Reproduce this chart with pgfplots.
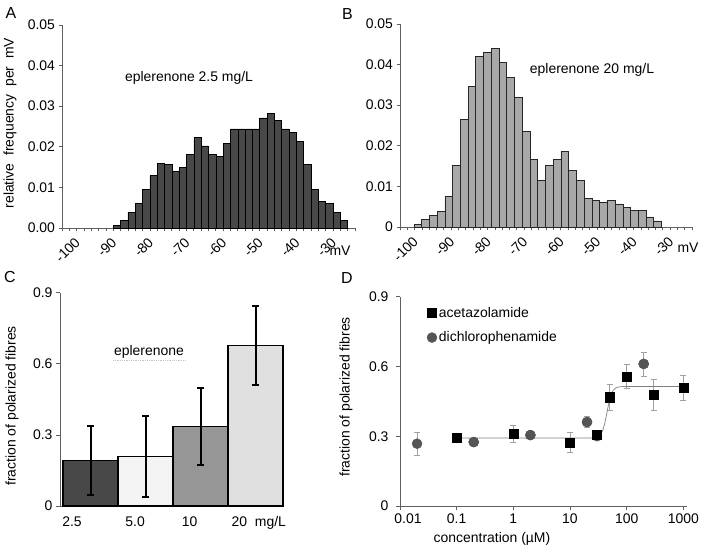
\documentclass[border=0pt]{standalone}
\usepackage{pgfplots}
\pgfplotsset{compat=1.18}
\usepackage{fontspec}
\setmainfont{Liberation Sans}
\definecolor{barA}{RGB}{72,72,72}
\definecolor{barB}{RGB}{168,168,168}
\definecolor{axgray}{RGB}{95,95,95}
\definecolor{cA}{RGB}{72,72,72}
\definecolor{cB}{RGB}{244,244,244}
\definecolor{cC}{RGB}{150,150,150}
\definecolor{cD}{RGB}{224,224,224}
\definecolor{circ}{RGB}{85,85,85}
\definecolor{errg}{RGB}{160,160,160}
\newcommand{\fs}{\fontsize{14}{16}\selectfont}
\begin{document}
\begin{tikzpicture}
\useasboundingbox (0,0) rectangle (702bp,548bp);
\pgfplotsset{
  every axis/.append style={scale only axis, anchor=south west,
    axis x line*=bottom, axis y line*=left, font=\fs,
    axis line style={axgray, line width=0.8pt},
    tick style={axgray, line width=0.8pt},
    tick align=outside, major tick length=4bp, clip=false,
    scaled y ticks=false, scaled x ticks=false},
  histo/.style={xmin=-100, xmax=-20, ymin=0, ymax=0.05,
    xtick={-100,-90,...,-30}, minor xtick={-100,-98,...,-20},
    major tick length=3.5bp, minor tick length=3.5bp,
    xticklabels={-100,-90,-80,-70,-60,-50,-40,-30},
    xticklabel style={rotate=45, anchor=east, inner sep=0pt, xshift=5bp, yshift=-17bp},
    ytick={0,0.01,0.02,0.03,0.04,0.05}},
}
% ---------- A ----------
\begin{axis}[histo, at={(62bp,320bp)}, width=293bp, height=203bp,
  yticklabels={0.00,0.01,0.02,0.03,0.04,0.05}]
\addplot[ybar, bar width=2, bar shift=0, fill=barA, draw=black, line width=0.6pt] coordinates {
(-85,0.0006)(-83,0.0018)(-81,0.0039)(-79,0.0060)(-77,0.0096)(-75,0.0129)(-73,0.0160)(-71,0.0156)
(-69,0.0139)(-67,0.0150)(-65,0.0181)(-63,0.0224)(-61,0.0202)(-59,0.0182)(-57,0.0177)(-55,0.0208)
(-53,0.0244)(-51,0.0244)(-49,0.0244)(-47,0.0244)(-45,0.0271)(-43,0.0282)(-41,0.0266)(-39,0.0244)
(-37,0.0235)(-35,0.0213)(-33,0.0156)(-31,0.0096)(-29,0.0066)(-27,0.0061)(-25,0.0039)(-23,0.0018)};
\end{axis}
% ---------- B ----------
\begin{axis}[histo, at={(400bp,321bp)}, width=292bp, height=203bp,
  yticklabels={0,0.01,0.02,0.03,0.04,0.05}]
\addplot[ybar, bar width=2.12, bar shift=0, fill=barB, draw=black!85, line width=0.6pt] coordinates {
(-95.14,0.0006)(-93.02,0.0018)(-90.90,0.0028)(-88.78,0.0039)(-86.66,0.0076)(-84.54,0.0151)(-82.42,0.0266)(-80.30,0.0346)
(-78.18,0.0420)(-76.06,0.0431)(-73.94,0.0440)(-71.82,0.0405)(-69.70,0.0368)(-67.58,0.0319)(-65.46,0.0236)(-63.34,0.0167)
(-61.22,0.0115)(-59.10,0.0151)(-56.98,0.0167)(-54.86,0.0187)(-52.74,0.0140)(-50.62,0.0114)(-48.50,0.0071)(-46.38,0.0066)
(-44.26,0.0062)(-42.14,0.0066)(-40.02,0.0057)(-37.90,0.0049)(-35.78,0.0040)(-33.66,0.0040)(-31.54,0.0025)(-29.42,0.0015)};
\end{axis}
% ---------- C ----------
\begin{axis}[at={(60bp,42bp)}, width=223bp, height=213.3bp,
  xmin=0.445, xmax=4.5, ymin=0, ymax=0.9,
  ytick={0,0.3,0.6,0.9}, yticklabels={0,0.3,0.6,0.9},
  xtick={0.663,1.81,2.80,4.06}, xticklabels={2.5,5.0,10,20\ \ mg/L},
  xtick style={draw=none}, xticklabel style={yshift=-3bp},
  every error bar/.append style={line width=2pt, black},
  errC/.style={ybar, bar width=1, bar shift=0, draw=black, line width=1.5pt,
    error bars/.cd, y dir=both, y explicit,
    error bar style={line width=2pt, black},
    error mark options={rotate=90, mark size=3.5bp, line width=2pt, black}}]
\addplot[fill=cA, errC] coordinates {(1,0.191) +- (0,0.145)};
\addplot[fill=cB, errC] coordinates {(2,0.208) +- (0,0.170)};
\addplot[fill=cC, errC] coordinates {(3,0.335) +- (0,0.162)};
\addplot[fill=cD, errC] coordinates {(4,0.677) +- (0,0.168)};
\end{axis}
% ---------- D ----------
\begin{axis}[at={(400bp,42bp)}, width=286.7bp, height=209.3bp,
  xmode=log, xmin=0.01, xmax=1148, ymin=0, ymax=0.9, xminorticks=false,
  xtick={0.01,0.1,1,10,100,1000}, xticklabels={\hspace*{16bp}0.01,0.1,1,10,100,1000},
  ytick={0,0.3,0.6,0.9}, yticklabels={0,0.3,0.6,0.9},
  yticklabel style={xshift=-4bp},
  legend style={at={(0.083,0.97)}, anchor=north west, draw=none, fill=none, font=\fs, row sep=9bp},
  legend cell align=left]
\addplot[only marks, mark=square*, mark size=4.6bp, black, forget plot,
  error bars/.cd, y dir=both, y explicit, error bar style={errg, line width=0.6pt},
  error mark options={rotate=90, mark size=3bp, errg, line width=0.6pt}]
  coordinates {(0.1,0.294)+-(0,0.01)(1,0.311)+-(0,0.037)(10,0.272)+-(0,0.043)(30,0.307)+-(0,0.01)
  (50,0.468)+-(0,0.057)(100,0.556)+-(0,0.052)(300,0.479)+-(0,0.066)(1000,0.508)+-(0,0.054)};
\addplot[only marks, mark=*, mark size=5bp, circ, forget plot,
  error bars/.cd, y dir=both, y explicit, error bar style={errg, line width=0.6pt},
  error mark options={rotate=90, mark size=3bp, errg, line width=0.6pt}]
  coordinates {(0.02,0.268)+-(0,0.05)(0.2,0.275)+-(0,0.01)(2,0.305)+-(0,0.01)(20,0.361)+-(0,0.023)
  (30,0.300)+-(0,0.01)(200,0.611)+-(0,0.052)};
\addplot[gray, line width=0.7pt, forget plot] coordinates {
(0.1,0.292)(25,0.2926)(30,0.2958)(35,0.3087)(38,0.3265)(41,0.3547)(44,0.3907)(47,0.4268)
(50,0.4566)(54,0.4831)(58,0.4977)(64,0.5076)(72,0.512)(85,0.5136)(1000,0.514)};
\addplot[only marks, mark=square*, mark size=4.6bp, black] coordinates {(0.1,0.294)(1,0.311)(10,0.272)(30,0.307)(50,0.468)(100,0.556)(300,0.479)(1000,0.508)};
\addplot[only marks, mark=*, mark size=5bp, circ] coordinates {(0.2,0.275)(2,0.305)(20,0.361)(200,0.611)};
\legend{acetazolamide, dichlorophenamide}
\end{axis}
% ---------- texts ----------
\node[font=\fontsize{16}{18}\selectfont] at (11bp,535bp) {A};
\node[font=\fontsize{16}{18}\selectfont] at (347.5bp,534bp) {B};
\node[font=\fontsize{16}{18}\selectfont] at (10bp,271bp) {C};
\node[font=\fontsize{16}{18}\selectfont] at (347bp,270bp) {D};
\node[font=\fs, rotate=90] at (10bp,425bp) {relative\ \ frequency\ \ per\ \ mV};
\node[font=\fs] at (189bp,470bp) {eplerenone 2.5 mg/L};
\node[font=\fs] at (592bp,478bp) {eplerenone 20 mg/L};
\node[font=\fs] at (340bp,297bp) {mV};
\node[font=\fs] at (688bp,300bp) {mV};
\node[font=\fs, rotate=90] at (12bp,142bp) {fraction of polarized fibres};
\node[font=\fs, rotate=90] at (346bp,151bp) {fraction of polarized fibres};
\node[font=\fs] at (149bp,196bp) {eplerenone};
\draw[gray!45, densely dotted, line width=0.8pt] (113bp,188bp) -- (185bp,188bp);
\node[font=\fs] at (492bp,9bp) {concentration (µM)};
\end{tikzpicture}
\end{document}
